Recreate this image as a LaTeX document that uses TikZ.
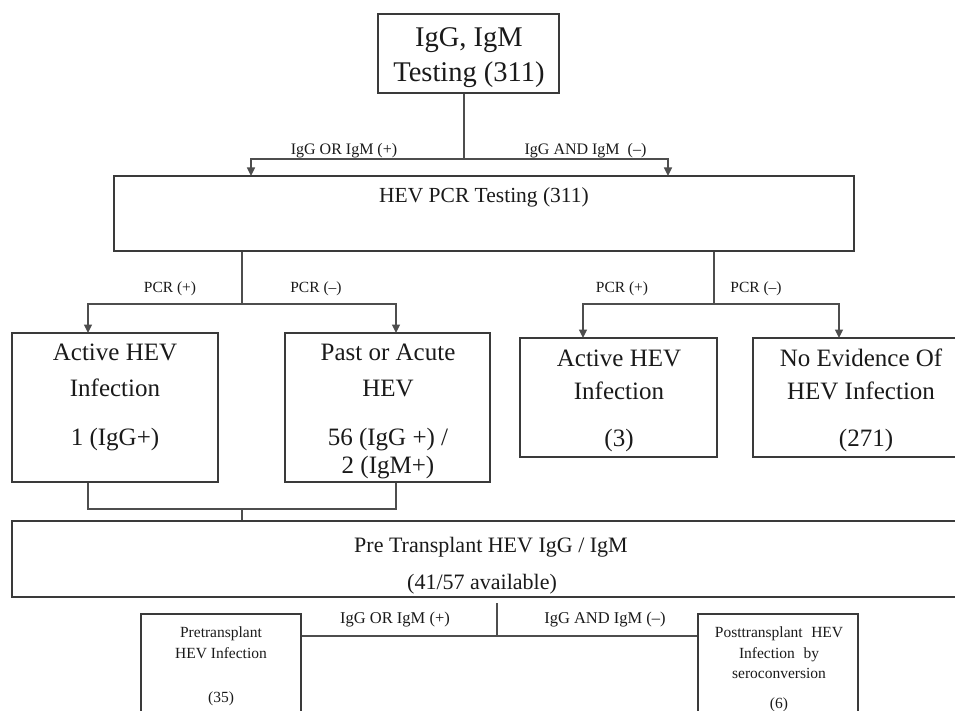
\documentclass[tikz,border=0pt]{standalone}
\usepackage{fontspec}
\setmainfont{Liberation Serif}
\usetikzlibrary{arrows.meta}
\definecolor{boxc}{HTML}{3A3A3A}
\definecolor{linec}{HTML}{4E4E4E}
\definecolor{txt}{HTML}{1A1A1A}
\begin{document}
\begin{tikzpicture}[x=1pt,y=-1pt,
  box/.style={draw=boxc, line width=1.7pt, inner sep=0pt},
  conn/.style={draw=linec, line width=1.5pt},
  arr/.style={conn, -{Triangle[length=8.5pt,width=8pt]}},
  t/.style={anchor=base, inner sep=0pt, text=txt},
  big/.style={t, font=\fontsize{28.5}{30}\selectfont},
  mid/.style={t, font=\fontsize{25}{27}\selectfont},
  pcrf/.style={t, font=\fontsize{21.5}{23}\selectfont},
  pref/.style={t, font=\fontsize{22}{24}\selectfont},
  sm/.style={t, font=\fontsize{16}{18}\selectfont},
  smb/.style={t, font=\fontsize{16.5}{18}\selectfont},
  xs/.style={t, font=\fontsize{15.5}{17}\selectfont}
]
\useasboundingbox (0,0) rectangle (955,711);
\fill[white] (0,0) rectangle (955,711);
\clip (0,0) rectangle (955,711);

% boxes
\node[box, minimum width=181pt, minimum height=79pt] (top) at (468.5,53.5) {};
\node[box, minimum width=740pt, minimum height=75pt] (pcr) at (484,213.5) {};
\node[box, minimum width=206pt, minimum height=149pt] (a1) at (115,407.5) {};
\node[box, minimum width=205pt, minimum height=149pt] (a2) at (387.5,407.5) {};
\node[box, minimum width=197pt, minimum height=119pt] (a3) at (618.5,397.5) {};
\node[box, minimum width=216pt, minimum height=119pt] (a4) at (861,397.5) {};
\node[box, minimum width=958pt, minimum height=76pt] (pre) at (491,559) {};
\node[box, minimum width=160pt, minimum height=126pt] (b1) at (221,677) {};
\node[box, minimum width=160pt, minimum height=126pt] (b2) at (778,677) {};

% connector coordinates
\coordinate (j1) at (464,159);
\coordinate (pL) at (251,176);
\coordinate (pR) at (668,176);
\coordinate (j2) at (242,304);
\coordinate (j3) at (714,304);
\coordinate (q1) at (88,333);
\coordinate (q2) at (396,333);
\coordinate (q3) at (583,338);
\coordinate (q4) at (839,338);
\coordinate (j4) at (242,509);
\coordinate (s5) at (497,603);
\coordinate (j5) at (497,636);

% connectors
\draw[conn] (top.south -| j1) -- (j1);
\draw[arr] (j1) -| (pL);
\draw[arr] (j1) -| (pR);
\draw[conn] (pcr.south -| j2) -- (j2);
\draw[arr] (j2) -| (q1);
\draw[arr] (j2) -| (q2);
\draw[conn] (pcr.south -| j3) -- (j3);
\draw[arr] (j3) -| (q3);
\draw[arr] (j3) -| (q4);
\draw[conn] (a1.south -| q1) |- (j4);
\draw[conn] (a2.south -| q2) |- (j4);
\draw[conn] (j4) -- (pre.north -| j4);
\draw[conn] (s5) -- (j5);
\draw[conn] (b1.east |- j5) -- (b2.west |- j5);

% texts
\node[big] (t1) at (469,47) {IgG, IgM};
\node[big] (t2) at (469,82) {Testing (311)};
\node[pcrf] (t3) at (484,203) {HEV PCR Testing (311)};
\node[sm] (l1) at (344,155) {IgG OR IgM (+)};
\node[sm] (l2) at (585.5,155) {IgG AND IgM\hspace{0.25em} (–)};
\node[xs] (l3) at (170,292) {PCR (+)};
\node[xs] (l4) at (316,292) {PCR (–)};
\node[xs] (l5) at (622,292) {PCR (+)};
\node[xs] (l6) at (756,292) {PCR (–)};

\node[mid] (a1t1) at (115,360) {Active HEV};
\node[mid] (a1t2) at (115,396) {Infection};
\node[mid] (a1t3) at (115,445) {1 (IgG+)};
\node[mid] (a2t1) at (388,360) {Past or Acute};
\node[mid] (a2t2) at (388,396) {HEV};
\node[mid] (a2t3) at (388,445) {56 (IgG +) /};
\node[mid] (a2t4) at (388,473) {2 (IgM+)};
\node[mid] (a3t1) at (619,366) {Active HEV};
\node[mid] (a3t2) at (619,399) {Infection};
\node[mid] (a3t3) at (619,446) {(3)};
\node[mid] (a4t1) at (861,366) {No Evidence Of};
\node[mid] (a4t2) at (861,399) {HEV Infection};
\node[mid] (a4t3) at (866,446) {(271)};

\node[pref] (p1) at (491,552) {Pre Transplant HEV IgG / IgM};
\node[pref] (p2) at (482,589) {(41/57 available)};

\node[smb] (l7) at (395,623) {IgG OR IgM (+)};
\node[smb] (l8) at (605,623) {IgG AND IgM (–)};

\node[xs] (b1t1) at (221,637) {Pretransplant};
\node[xs] (b1t2) at (221,658) {HEV Infection};
\node[xs] (b1t3) at (221,702) {(35)};
\node[xs] (b2t1) at (779,637) {Posttransplant\hspace{0.3em} HEV};
\node[xs] (b2t2) at (779,658) {Infection\hspace{0.3em} by};
\node[xs] (b2t3) at (779,678) {seroconversion};
\node[xs] (b2t4) at (779,708) {(6)};
\end{tikzpicture}
\end{document}
